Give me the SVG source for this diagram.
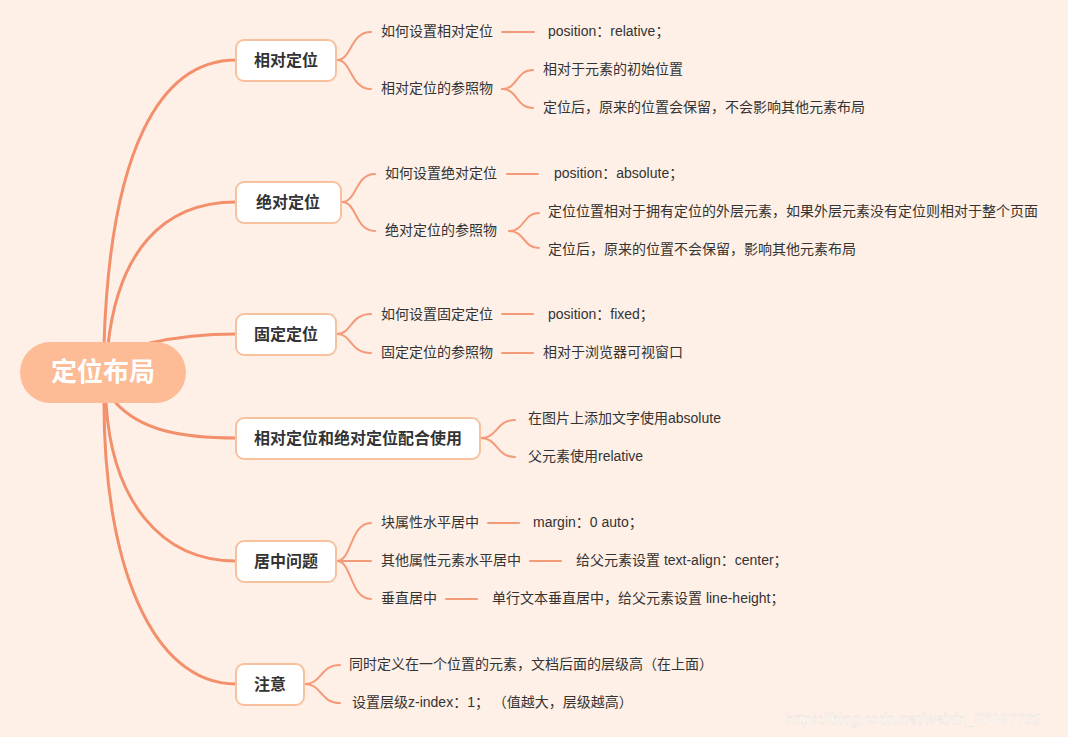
<svg xmlns="http://www.w3.org/2000/svg" width="1068" height="737" viewBox="0 0 1068 737">
<style>
text{font-family:"Liberation Sans","Noto Sans CJK SC",sans-serif;dominant-baseline:central;white-space:pre}
.t{font-size:14px;fill:#333}
.b{font-size:16px;font-weight:bold;fill:#333;text-anchor:middle}
.box{fill:#fff;stroke:#F7C19E;stroke-width:2}
.l1{fill:none;stroke:#F48F6C;stroke-width:3;stroke-linecap:round}
.l2{fill:none;stroke:#F59A78;stroke-width:2;stroke-linecap:round}
</style>
<rect width="1068" height="737" fill="#FEF0E6"/>
<g id="connectors">
<path class="l1" d="M104,345 C110,150 160,60 236,60"/>
<path class="l1" d="M108,345 C118,255 160,202 236,202"/>
<path class="l1" d="M150,343 Q190,334 236,334"/>
<path class="l1" d="M115,402 C140,430 180,438 236,438"/>
<path class="l1" d="M106,403 C112,500 160,561 236,561"/>
<path class="l1" d="M104,403 C104,560 150,684 236,684"/>
<path class="l2" d="M337,60 C352,60 350,32 371,32"/>
<path class="l2" d="M337,60 C352,60 350,89 371,89"/>
<path class="l2" d="M502,32 L534,32"/>
<path class="l2" d="M502,89 C518,89 516,70 533,70"/>
<path class="l2" d="M502,89 C518,89 516,108 533,108"/>
<path class="l2" d="M342,202 C357,202 355,174 375,174"/>
<path class="l2" d="M342,202 C357,202 355,231 375,231"/>
<path class="l2" d="M507,174 L538,174"/>
<path class="l2" d="M509,231 C525,231 523,213 539,213"/>
<path class="l2" d="M509,231 C525,231 523,248 539,248"/>
<path class="l2" d="M337,334 C352,334 350,314 371,314"/>
<path class="l2" d="M337,334 C352,334 350,353 371,353"/>
<path class="l2" d="M502,314 L533,314"/>
<path class="l2" d="M502,353 L533,353"/>
<path class="l2" d="M481,438 C498,438 496,420 515,420"/>
<path class="l2" d="M481,438 C498,438 496,457 515,457"/>
<path class="l2" d="M337,561 C352,561 350,523 371,523"/>
<path class="l2" d="M337,561 L371,561"/>
<path class="l2" d="M337,561 C352,561 350,599 371,599"/>
<path class="l2" d="M488,523 L519,523"/>
<path class="l2" d="M530,561 L561,561"/>
<path class="l2" d="M446,599 L477,599"/>
<path class="l2" d="M305,684 C322,684 320,665 340,665"/>
<path class="l2" d="M305,684 C322,684 320,703 340,703"/>
</g>
<g id="root">
<rect x="20" y="342" width="166" height="61" rx="30.5" fill="#FDBB96"/>
<text x="103" y="372" style="font-size:26px;font-weight:bold;fill:#fff;text-anchor:middle">定位布局</text>
</g>
<g id="n1"><rect class="box" x="236" y="40" width="100" height="41" rx="8"/><text class="b" x="286" y="60">相对定位</text></g>
<g id="n2"><rect class="box" x="236" y="182" width="105" height="41" rx="8"/><text class="b" x="288" y="202">绝对定位</text></g>
<g id="n3"><rect class="box" x="236" y="314" width="100" height="41" rx="8"/><text class="b" x="286" y="334">固定定位</text></g>
<g id="n4"><rect class="box" x="236" y="418" width="244" height="41" rx="8"/><text class="b" x="358" y="438">相对定位和绝对定位配合使用</text></g>
<g id="n5"><rect class="box" x="236" y="541" width="100" height="41" rx="8"/><text class="b" x="286" y="561">居中问题</text></g>
<g id="n6"><rect class="box" x="236" y="664" width="68" height="41" rx="8"/><text class="b" x="270" y="684">注意</text></g>
<g id="n1-items">
<text class="t" x="381" y="31">如何设置相对定位</text>
<text class="t" x="548" y="31">position：relative；</text>
<text class="t" x="381" y="88">相对定位的参照物</text>
<text class="t" x="543" y="69">相对于元素的初始位置</text>
<text class="t" x="543" y="107">定位后，原来的位置会保留，不会影响其他元素布局</text>
</g>
<g id="n2-items">
<text class="t" x="385" y="173">如何设置绝对定位</text>
<text class="t" x="554" y="173">position：absolute；</text>
<text class="t" x="385" y="230">绝对定位的参照物</text>
<text class="t" x="548" y="211">定位位置相对于拥有定位的外层元素，如果外层元素没有定位则相对于整个页面</text>
<text class="t" x="548" y="249">定位后，原来的位置不会保留，影响其他元素布局</text>
</g>
<g id="n3-items">
<text class="t" x="381" y="314">如何设置固定定位</text>
<text class="t" x="548" y="314">position：fixed；</text>
<text class="t" x="381" y="352">固定定位的参照物</text>
<text class="t" x="543" y="352">相对于浏览器可视窗口</text>
</g>
<g id="n4-items">
<text class="t" x="528" y="418">在图片上添加文字使用absolute</text>
<text class="t" x="528" y="456">父元素使用relative</text>
</g>
<g id="n5-items">
<text class="t" x="381" y="522">块属性水平居中</text>
<text class="t" x="533" y="522">margin：0 auto；</text>
<text class="t" x="381" y="560">其他属性元素水平居中</text>
<text class="t" x="576" y="560">给父元素设置 text-align：center；</text>
<text class="t" x="381" y="598">垂直居中</text>
<text class="t" x="492" y="598">单行文本垂直居中，给父元素设置 line-height；</text>
</g>
<g id="n6-items">
<text class="t" x="349" y="664">同时定义在一个位置的元素，文档后面的层级高（在上面）</text>
<text class="t" x="352" y="702">设置层级z-index：1； （值越大，层级越高）</text>
</g>
<text x="786" y="718" style="font-size:15px;fill:#fff;stroke:#e2d9d3;stroke-width:0.3">https://blog.csdn.net/weixin_57097732</text>
</svg>
